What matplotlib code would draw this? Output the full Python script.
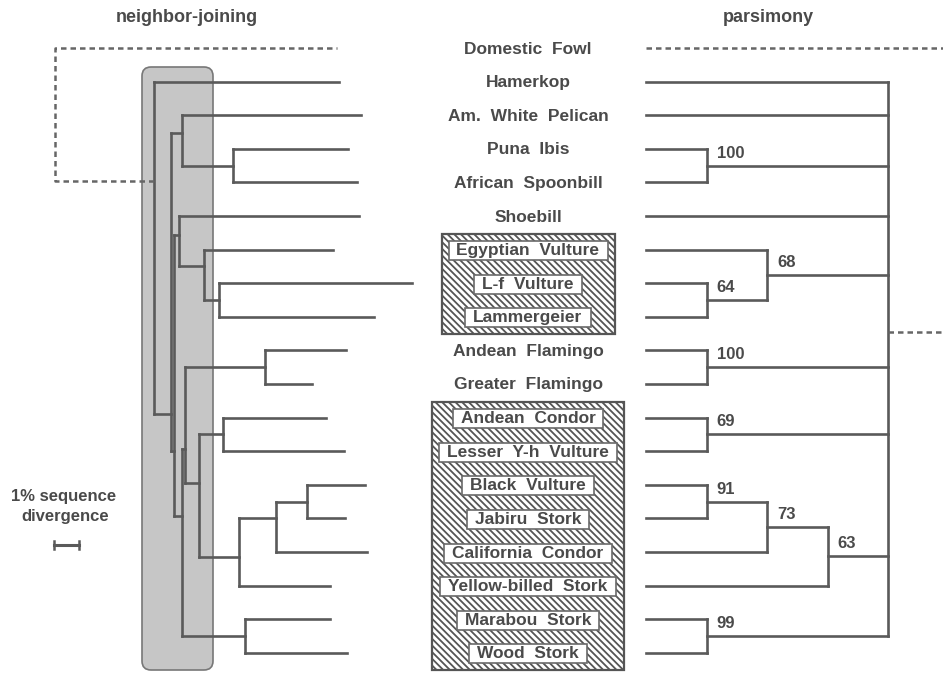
import matplotlib
matplotlib.use("Agg")
import matplotlib.pyplot as plt
from matplotlib.patches import FancyBboxPatch, Rectangle

plt.rcParams['font.family'] = ['Liberation Sans', 'DejaVu Sans']
plt.rcParams['hatch.linewidth'] = 1.3

# ---- data -------------------------------------------------------------
taxa = ["Domestic  Fowl", "Hamerkop", "Am.  White  Pelican", "Puna  Ibis",
        "African  Spoonbill", "Shoebill", "Egyptian  Vulture", "L-f  Vulture",
        "Lammergeier", "Andean  Flamingo", "Greater  Flamingo", "Andean  Condor",
        "Lesser  Y-h  Vulture", "Black  Vulture", "Jabiru  Stork",
        "California  Condor", "Yellow-billed  Stork", "Marabou  Stork",
        "Wood  Stork"]
# taxa (by row) shown inside the hatched vulture boxes
boxed_groups = [[6, 7, 8], [11, 12, 13, 14, 15, 16, 17, 18]]

# neighbor-joining: tip positions in % sequence divergence from the root node
nj_tips = [7.32, 7.4, 8.28, 7.76, 8.12, 8.2, 7.16, 10.32, 8.8, 7.68, 6.32,
           6.88, 7.6, 8.44, 7.64, 8.52, 7.04, 7.04, 7.72]
# internal nodes: name, depth (%), children, row where the node joins its parent
nj_nodes = ["A", "C", "Pel", "Ibis", "D", "Shoe", "Vult", "Lf", "E", "Fl2",
            "Flam", "F", "Cond", "G", "H", "I", "Mar"]
nj_depth = [0.0, 0.68, 1.12, 3.16, 0.8, 1.0, 2.0, 2.6, 1.12, 1.24,
            4.44, 1.8, 2.76, 3.4, 4.88, 6.12, 3.64]
nj_children = [[1, "C"], ["Pel", "D"], [2, "Ibis"], [3, 4], ["Shoe", "E"],
               [5, "Vult"], [6, "Lf"], [7, 8], ["Fl2", "Mar"], ["Flam", "F"],
               [9, 10], ["Cond", "G"], [11, 12], ["H", 16], ["I", 15],
               [13, 14], [17, 18]]
nj_attach = [None, 10.9, 2.53, 3.5, 12.0, 5.57, 6.5, 7.5, 13.93, 11.93,
             9.5, 12.95, 11.5, 15.15, 14.0, 13.5, 17.5]
nj_outgroup_row = 3.96
nj_outgroup_bend = -3.96

# parsimony (cladogram): node level, children, bootstrap support
pars_nodes = ["ib", "lf", "vu", "fl", "co", "bv", "n73", "n63", "ms", "root"]
pars_level = [1, 1, 2, 1, 1, 1, 2, 3, 1, 4]
pars_children = [[3, 4], [7, 8], [6, "lf"], [9, 10], [11, 12], [13, 14],
                 ["bv", 15], ["n73", 16], [17, 18],
                 [1, 2, "ib", 5, "vu", "fl", "co", "n63", "ms"]]
pars_support = [100, 64, 68, 100, 69, 91, 73, 63, 99, None]
pars_outgroup_row = 8.45
pars_outgroup_level = 5.3

# ---- layout -----------------------------------------------------------
W, H = 943, 673
ROW_Y0, ROW_DY = 48, 33.6
NJ_X0, NJ_PX = 154, 25          # 1 % divergence = 25 px
PARS_X0, PARS_DX = 646, 60.5
LABEL_X = 528
GREY = '#5a5a5a'
TXT = '#4a4a4a'
LW = 1.9


def row_y(r):
    return ROW_Y0 + r * ROW_DY


def nj_x(d):
    return NJ_X0 + d * NJ_PX


def pars_x(lv):
    return PARS_X0 + lv * PARS_DX


fig = plt.figure(figsize=(W / 100, H / 100), dpi=100)
ax = fig.add_axes([0, 0, 1, 1])
ax.set_xlim(0, W)
ax.set_ylim(H, 0)
ax.axis('off')

line_kw = dict(color=GREY, lw=LW, solid_capstyle='projecting', zorder=3)
dash_kw = dict(color='#666666', lw=1.8, linestyle=(0, (2.2, 1.6)), zorder=3)

# ---- neighbor-joining tree -------------------------------------------
ax.add_patch(FancyBboxPatch((142, 67), 71, 603,
                            boxstyle='round,pad=0,rounding_size=9',
                            fc='#c6c6c6', ec='#777777', lw=1.2, zorder=1))

nj = {n: (d, ch, a) for n, d, ch, a in zip(nj_nodes, nj_depth, nj_children, nj_attach)}


def nj_pos(c):
    if isinstance(c, int):
        return nj_tips[c], c
    return nj[c][0], nj[c][2]


for n in nj_nodes:
    d, ch, a = nj[n]
    rows = [nj_pos(c)[1] for c in ch] + ([a] if a is not None else [])
    ax.plot([nj_x(d)] * 2, [row_y(min(rows)), row_y(max(rows))], **line_kw)
    for c in ch:
        cd, cr = nj_pos(c)
        ax.plot([nj_x(d), nj_x(cd)], [row_y(cr)] * 2, **line_kw)

ax.plot([nj_x(0), nj_x(nj_outgroup_bend), nj_x(nj_outgroup_bend), nj_x(nj_tips[0])],
        [row_y(nj_outgroup_row), row_y(nj_outgroup_row), row_y(0), row_y(0)], **dash_kw)

# scale bar: 1 % divergence
ax.text(64, 496, "1% sequence", ha='center', va='center', fontsize=12,
        fontweight='bold', color=TXT)
ax.text(65, 517, "divergence", ha='center', va='center', fontsize=12,
        fontweight='bold', color=TXT)
ax.plot([nj_x(-4), nj_x(-3)], [545, 545], color=GREY, lw=2.2)
for xe in (nj_x(-4), nj_x(-3)):
    ax.plot([xe, xe], [541, 549], color=GREY, lw=1.8)

# ---- parsimony tree ---------------------------------------------------
pars = {n: (lv, ch, s) for n, lv, ch, s in zip(pars_nodes, pars_level, pars_children, pars_support)}


def p_row(c):
    if isinstance(c, int):
        return float(c)
    rows = [p_row(k) for k in pars[c][1]]
    return (min(rows) + max(rows)) / 2


def p_level(c):
    return 0 if isinstance(c, int) else pars[c][0]


for n in pars_nodes:
    lv, ch, s = pars[n]
    rows = [p_row(c) for c in ch]
    ax.plot([pars_x(lv)] * 2, [row_y(min(rows)), row_y(max(rows))], **line_kw)
    for c in ch:
        ax.plot([pars_x(p_level(c)), pars_x(lv)], [row_y(p_row(c))] * 2, **line_kw)
    if s is not None:
        ax.text(pars_x(lv) + 10, row_y(p_row(n)) - 8, str(s), ha='left',
                va='baseline', fontsize=12, fontweight='bold', color=TXT)

ax.plot([pars_x(0), pars_x(pars_outgroup_level)], [row_y(0)] * 2, **dash_kw)
ax.plot([pars_x(4), pars_x(pars_outgroup_level)], [row_y(pars_outgroup_row)] * 2, **dash_kw)

# ---- titles and taxon names ------------------------------------------
ax.text(187, 17, "neighbor-joining", ha='center', va='center', fontsize=13,
        fontweight='bold', color=TXT)
ax.text(768, 18, "parsimony", ha='center', va='center', fontsize=13,
        fontweight='bold', color=TXT)

labels = {}
for i, name in enumerate(taxa):
    labels[i] = ax.text(LABEL_X, row_y(i) + 1, name, ha='center', va='center',
                        fontsize=12.5, fontweight='bold', color=TXT, zorder=5)

# white label boxes and hatched group boxes, sized from the rendered text
fig.canvas.draw()
inv = ax.transData.inverted()
PAD_X, PAD_Y, MARGIN = 8, 2, 7
for g in boxed_groups:
    xs, ys = [], []
    for i in g:
        ext = labels[i].get_window_extent()
        (x0, y0), (x1, y1) = inv.transform([[ext.x0, ext.y0], [ext.x1, ext.y1]])
        x0, x1 = min(x0, x1) - PAD_X, max(x0, x1) + PAD_X
        y0, y1 = min(y0, y1) - PAD_Y, max(y0, y1) + PAD_Y
        ax.add_patch(Rectangle((x0, y0), x1 - x0, y1 - y0, fc='white',
                               ec='#6a6a6a', lw=1.2, zorder=4))
        xs += [x0, x1]
        ys += [y0, y1]
    ax.add_patch(Rectangle((min(xs) - MARGIN, min(ys) - MARGIN),
                           max(xs) - min(xs) + 2 * MARGIN,
                           max(ys) - min(ys) + 2 * MARGIN, fc='white',
                           ec='#555555', hatch='\\\\\\\\\\', lw=1.6, zorder=2))

fig.savefig('out.png', dpi=100)
